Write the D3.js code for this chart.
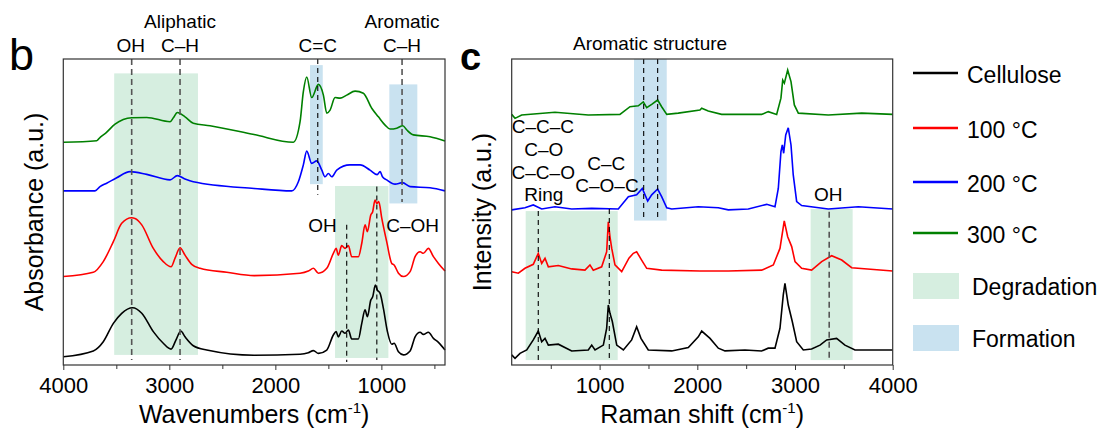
<!DOCTYPE html>
<html>
<head>
<meta charset="utf-8">
<script src="https://cdn.jsdelivr.net/npm/d3@7/dist/d3.min.js"></script>
<style>
  body { margin: 0; background: #fff; }
  svg text { font-family: "Liberation Sans", Arial, sans-serif; fill: #000; }
</style>
</head>
<body>
<div id="chart"></div>
<script>
// ---- data: stacked spectra, [wavenumber, intensity a.u.] ----
const ftirCellulose = [[4000,0.27],[3717,0.46],[3623,0.76],[3528,1.36],[3449,1.69],[3346,1.87],[3260,1.69],[3151,1.09],[3057,0.71],[2984,0.52],[2937,0.82],[2892,1.11],[2852,0.92],[2774,0.63],[2647,0.49],[2200,0.32],[1767,0.35],[1689,0.40],[1641,0.47],[1594,0.38],[1515,0.49],[1453,0.98],[1427,1.09],[1406,0.92],[1374,1.11],[1343,1.04],[1311,1.14],[1280,0.85],[1217,0.85],[1185,1.36],[1154,1.80],[1132,1.58],[1100,2.12],[1082,2.23],[1057,2.61],[1038,2.45],[1012,2.34],[981,1.85],[943,1.09],[902,0.68],[880,0.71],[839,0.43],[792,0.33],[729,0.46],[682,0.92],[635,1.07],[604,1.00],[557,1.07],[509,0.87],[462,0.74],[400,0.49]];
const ftir100 = [[4000,2.89],[3717,3.03],[3623,3.38],[3528,4.03],[3449,4.63],[3355,4.81],[3324,4.79],[3260,4.58],[3151,3.81],[3057,3.38],[2984,3.21],[2946,3.49],[2899,3.83],[2852,3.59],[2789,3.29],[2710,3.16],[2458,3.03],[2200,2.92],[1767,3.00],[1689,3.07],[1641,3.16],[1594,3.00],[1515,3.16],[1453,3.65],[1427,3.81],[1406,3.59],[1374,3.90],[1343,3.81],[1311,3.90],[1280,3.54],[1217,3.54],[1185,3.98],[1154,4.58],[1132,4.36],[1100,4.90],[1082,5.01],[1060,5.39],[1043,5.28],[1025,5.34],[996,4.79],[950,4.03],[902,3.32],[880,3.27],[839,3.00],[792,2.89],[729,3.05],[682,3.54],[635,3.70],[604,3.65],[557,3.81],[509,3.54],[462,3.32],[400,3.07]];
const ftir200 = [[4000,5.69],[3701,5.69],[3654,5.83],[3591,5.94],[3496,6.12],[3371,6.32],[3213,6.23],[2993,6.05],[2924,6.19],[2852,6.08],[2774,5.99],[2200,5.77],[1845,5.69],[1783,5.99],[1736,6.54],[1704,6.99],[1657,6.59],[1610,6.67],[1562,6.37],[1531,6.15],[1500,6.26],[1468,6.15],[1421,6.37],[1296,6.54],[1201,6.54],[1107,6.37],[1040,6.22],[1012,6.32],[990,6.15],[950,6.05],[871,5.91],[802,5.96],[729,5.83],[541,5.79],[400,5.69]];
const ftir300 = [[4000,7.28],[3685,7.33],[3650,7.45],[3600,7.58],[3512,7.87],[3355,8.08],[3213,8.09],[2993,7.95],[2962,8.08],[2924,8.25],[2852,8.11],[2774,7.90],[2616,7.82],[2200,7.53],[1830,7.28],[1767,7.95],[1736,8.93],[1704,9.41],[1657,8.74],[1594,9.17],[1547,8.82],[1515,8.23],[1484,8.33],[1437,8.74],[1390,8.72],[1327,8.82],[1248,8.95],[1170,8.88],[1091,8.39],[1028,8.11],[965,7.84],[918,7.71],[855,7.74],[798,7.82],[760,7.68],[698,7.52],[541,7.46],[400,7.32]];

const ramanCellulose = [[100,0.33],[134,0.22],[185,0.38],[254,0.49],[321,0.82],[372,1.11],[407,0.76],[441,0.87],[475,0.65],[577,0.68],[714,0.46],[884,0.49],[919,0.65],[953,0.49],[1038,0.65],[1072,1.20],[1089,1.96],[1106,1.69],[1130,1.42],[1175,0.65],[1243,0.49],[1328,0.82],[1379,1.25],[1423,0.87],[1498,0.49],[1738,0.46],[1908,0.57],[2010,0.92],[2045,1.11],[2130,0.87],[2215,0.55],[2283,0.46],[2488,0.49],[2659,0.46],[2726,0.55],[2795,0.55],[2846,1.20],[2880,2.29],[2897,2.67],[2931,1.96],[2972,1.42],[3017,0.76],[3085,0.49],[3170,0.52],[3256,0.65],[3324,0.82],[3426,0.87],[3511,0.65],[3614,0.49],[4000,0.49]];
const raman100 = [[100,3.05],[168,3.00],[236,3.16],[321,3.29],[372,3.65],[407,3.32],[441,3.49],[475,3.21],[577,3.25],[714,3.14],[850,3.10],[901,3.27],[935,3.10],[1021,3.21],[1072,3.70],[1089,4.68],[1106,4.19],[1124,3.81],[1157,3.27],[1226,3.05],[1300,3.49],[1345,3.65],[1379,3.70],[1430,3.43],[1482,3.16],[1635,3.10],[2027,3.07],[2317,3.07],[2659,3.10],[2778,3.27],[2846,3.81],[2890,4.71],[2925,4.19],[2966,3.87],[3000,3.38],[3068,3.16],[3170,3.10],[3273,3.38],[3375,3.57],[3478,3.43],[3580,3.18],[4000,3.07]];
const raman200 = [[100,5.07],[236,5.14],[321,5.23],[407,5.10],[543,5.17],[714,5.10],[919,5.12],[1191,5.10],[1294,5.50],[1379,5.56],[1437,5.77],[1492,5.36],[1533,5.56],[1594,5.75],[1635,5.50],[1687,5.14],[1738,5.10],[2010,5.17],[2215,5.14],[2317,5.07],[2522,5.10],[2710,5.25],[2795,5.17],[2829,5.77],[2856,6.97],[2870,7.19],[2884,6.92],[2905,7.52],[2931,7.75],[2959,7.19],[2982,6.21],[3017,5.34],[3068,5.21],[3341,5.10],[3648,5.17],[4000,5.10]];
const raman300 = [[100,8.19],[134,8.06],[202,8.17],[543,8.26],[884,8.17],[1208,8.19],[1311,8.44],[1396,8.47],[1447,8.60],[1482,8.41],[1533,8.52],[1594,8.66],[1635,8.44],[1687,8.19],[1805,8.23],[2027,8.33],[2045,8.39],[2112,8.30],[2249,8.19],[2659,8.19],[2726,8.28],[2812,8.19],[2856,8.72],[2874,9.31],[2891,9.21],[2925,9.64],[2959,9.26],[2993,8.50],[3034,8.23],[3341,8.17],[3683,8.23],[4000,8.19]];

const seriesNames = ["Cellulose", "100 °C", "200 °C", "300 °C"];
const bandNames = ["Degradation", "Formation"];

// shaded bands: [from, to, yTop, yBottom, kind]
const ftirBands = [[3520,2730,9.53,0.33,"Degradation"],[1437,934,5.85,0.23,"Degradation"],[1673,1553,9.80,5.91,"Formation"],[925,661,9.17,5.28,"Formation"]];
const ramanBands = [[243,1185,5.03,0.16,"Degradation"],[1352,1687,10,4.72,"Formation"],[3160,3590,5.10,0.16,"Degradation"]];

// dashed guides: [position, yTop, yBottom, grey?]
const ftirGuides = [[3355,10,0.16,1],[2899,10,0.16,1],[1600,10,5.56,0],[805,10,5.33,1],[1327,4.58,0.1,0],[1043,5.83,0.16,0]];
const ramanGuides = [[372,5.03,0.16,0],[1099,5.10,0.16,0],[1451,10,4.72,0],[1594,10,4.72,0],[3350,5.01,0.16,1]];

// annotations: [text, position, y]
const ftirNotes = [["Aliphatic",2899,11.01],["OH",3365,10.23],["C–H",2899,10.23],["C=C",1600,10.23],["Aromatic",805,11.01],["C–H",805,10.23],["OH",1555,4.34],["C–OH",706,4.34]];
const ramanNotes = [["Aromatic structure",1516,10.29],["C–C–C",420,7.57],["C–O",428,6.84],["C–C–O",423,6.08],["Ring",428,5.37],["C–C",1068,6.37],["C–O–C",1075,5.66],["OH",3340,5.37]];

const ftirTicks = [4000, 3000, 2000, 1000];
const ramanTicks = [1000, 2000, 3000, 4000];

const colors = ["#000000", "#ff0000", "#0000ff", "#008000"];
const bandColors = { Degradation: "#d6eee0", Formation: "#c9e2f0" };

const width = 1102, height = 430;
const svg = d3.select("#chart").append("svg")
  .attr("width", width).attr("height", height);

const y = d3.scaleLinear().domain([0, 10]).range([365, 59]);

function drawPanel(o) {
  const x = d3.scaleLinear().domain(o.domain).range(o.range);
  const g = svg.append("g");

  g.selectAll(".band").data(o.bands).enter().append("rect")
    .attr("x", d => Math.min(x(d[0]), x(d[1])))
    .attr("width", d => Math.abs(x(d[1]) - x(d[0])))
    .attr("y", d => y(d[2]))
    .attr("height", d => y(d[3]) - y(d[2]))
    .attr("fill", d => bandColors[d[4]]);

  const line = d3.line().x(d => x(d[0])).y(d => y(d[1])).curve(o.curve);
  o.series.forEach((s, i) => {
    g.append("path").attr("d", line(s))
      .attr("fill", "none").attr("stroke", colors[i]).attr("stroke-width", 1.6);
  });

  g.selectAll(".guide").data(o.guides).enter().append("line")
    .attr("x1", d => x(d[0])).attr("x2", d => x(d[0]))
    .attr("y1", d => y(d[1])).attr("y2", d => y(d[2]))
    .attr("stroke", d => d[3] ? "#555" : "#000")
    .attr("stroke-width", d => d[3] ? 1.6 : 1.1)
    .attr("stroke-dasharray", d => d[3] ? "6,4" : "5,4");

  g.selectAll(".note").data(o.notes).enter().append("text")
    .attr("x", d => x(d[1])).attr("y", d => y(d[2]))
    .attr("text-anchor", "middle").style("font-size", "19px")
    .text(d => d[0]);

  // frame
  g.append("rect")
    .attr("x", o.range[0]).attr("y", y(10))
    .attr("width", o.range[1] - o.range[0]).attr("height", y(0) - y(10))
    .attr("fill", "none").attr("stroke", "#333").attr("stroke-width", 1.2);

  const major = d3.axisBottom(x).tickValues(o.ticks).tickFormat(d3.format("d"))
    .tickSize(5).tickPadding(7).tickSizeOuter(0);
  const ax = g.append("g").attr("transform", `translate(0,${y(0)})`).call(major);
  ax.select(".domain").remove();
  ax.selectAll("line").attr("stroke", "#333");
  ax.selectAll("text").style("font-size", "22px").attr("fill", "#000");

  const minorVals = d3.range(500, 4001, 500).filter(v => !o.ticks.includes(v) &&
    v >= Math.min(...o.domain) && v <= Math.max(...o.domain));
  const minor = d3.axisBottom(x).tickValues(minorVals).tickSize(4).tickFormat("").tickSizeOuter(0);
  const mx = g.append("g").attr("transform", `translate(0,${y(0)})`).call(minor);
  mx.select(".domain").remove();
  mx.selectAll("line").attr("stroke", "#333");

  // axis titles
  const cx = (o.range[0] + o.range[1]) / 2;
  const xt = g.append("text").attr("x", cx).attr("y", 423)
    .attr("text-anchor", "middle").style("font-size", "25px");
  xt.append("tspan").text(o.xTitle + " (cm");
  xt.append("tspan").attr("dy", -10).style("font-size", "15px").text("-1");
  xt.append("tspan").attr("dy", 10).text(")");

  g.append("text")
    .attr("transform", `translate(${o.yTitleX},${(y(0) + y(10)) / 2}) rotate(-90)`)
    .attr("text-anchor", "middle").style("font-size", "25px")
    .text(o.yTitle);

  g.append("text").attr("x", o.letterX).attr("y", 70)
    .style("font-size", o.letterSize).style("font-weight", o.letterWeight)
    .text(o.letter);
}

drawPanel({
  domain: [4000, 400], range: [63.3, 445], curve: d3.curveMonotoneX,
  series: [ftirCellulose, ftir100, ftir200, ftir300],
  bands: ftirBands, guides: ftirGuides, notes: ftirNotes, ticks: ftirTicks,
  xTitle: "Wavenumbers", yTitle: "Absorbance (a.u.)", yTitleX: 43,
  letter: "b", letterX: 9, letterSize: "45px", letterWeight: "normal"
});

drawPanel({
  domain: [100, 4000], range: [511.7, 892.7], curve: d3.curveLinear,
  series: [ramanCellulose, raman100, raman200, raman300],
  bands: ramanBands, guides: ramanGuides, notes: ramanNotes, ticks: ramanTicks,
  xTitle: "Raman shift", yTitle: "Intensity (a.u.)", yTitleX: 491,
  letter: "c", letterX: 460, letterSize: "38px", letterWeight: "bold"
});

// legend
const legend = svg.append("g");
const lineRows = [73, 128, 182, 233];
seriesNames.forEach((name, i) => {
  legend.append("line").attr("x1", 913).attr("x2", 958)
    .attr("y1", lineRows[i]).attr("y2", lineRows[i])
    .attr("stroke", colors[i]).attr("stroke-width", 2.5);
  legend.append("text").attr("x", 967).attr("y", lineRows[i] + 9.5)
    .style("font-size", "23px").text(name);
});
const bandRows = [273, 325];
bandNames.forEach((name, i) => {
  legend.append("rect").attr("x", 913).attr("y", bandRows[i])
    .attr("width", 46).attr("height", 26).attr("fill", bandColors[name]);
  legend.append("text").attr("x", 972).attr("y", bandRows[i] + 22)
    .style("font-size", "23px").text(name);
});
</script>
</body>
</html>
